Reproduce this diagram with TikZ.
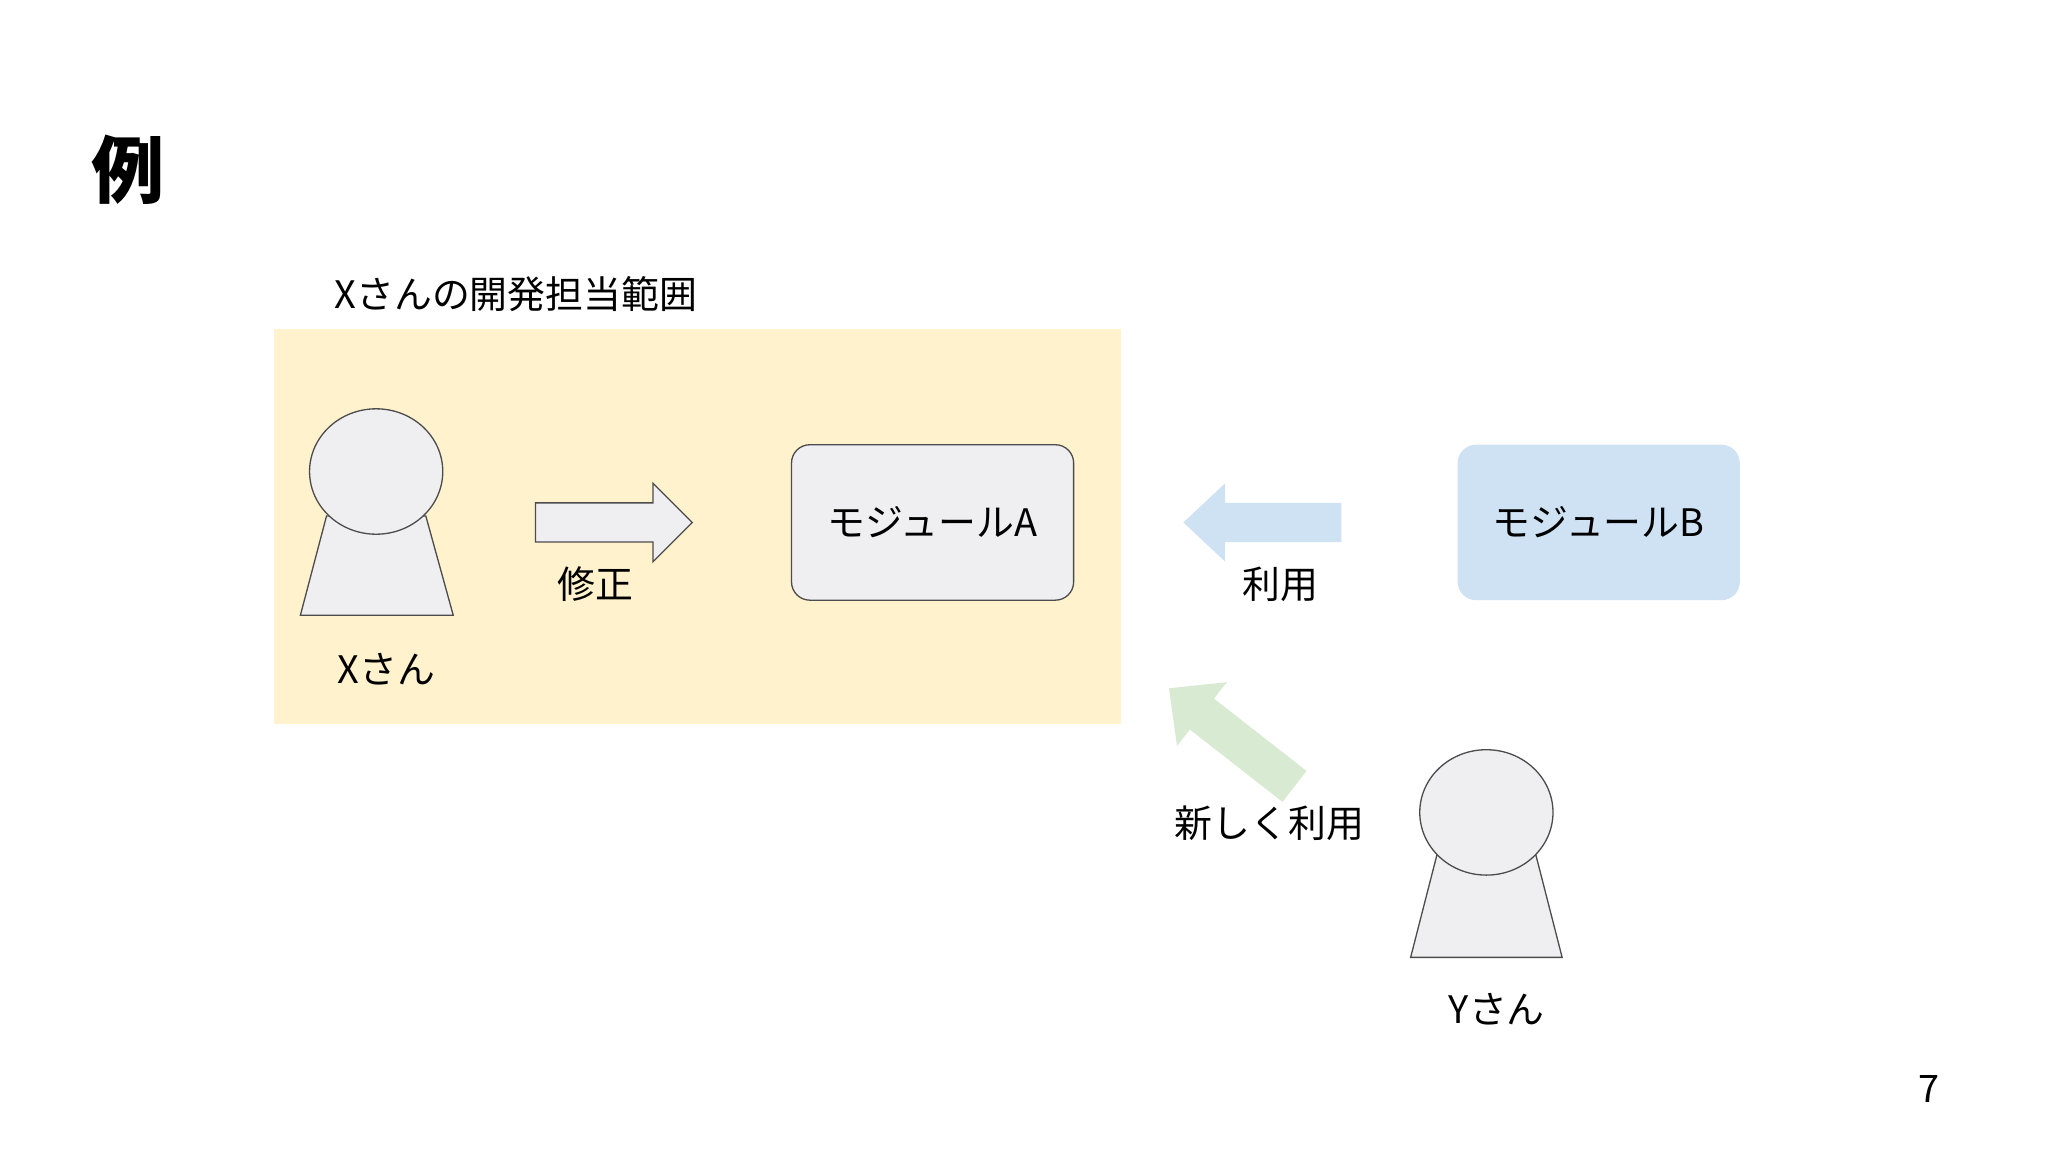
\documentclass[tikz,border=0pt]{standalone}
\usepackage{fontspec}
\setmainfont{Noto Sans CJK JP}
\definecolor{yel}{RGB}{255,242,204}
\definecolor{blu}{RGB}{207,226,243}
\definecolor{grn}{RGB}{217,234,211}
\definecolor{gry}{RGB}{239,239,242}
\begin{document}
\begin{tikzpicture}[x=1pt,y=-1pt,
  txt/.style={font=\fontsize{29}{31}\selectfont,inner sep=0pt},
  person/.style={fill=gry,draw=black!70,line width=1pt},
  modbox/.style={rounded corners=14pt,minimum width=216pt,minimum height=119pt,font=\fontsize{29}{31}\selectfont}]
\useasboundingbox (0,0) rectangle (1568,882);
\fill[white] (0,0) rectangle (1568,882);
\node[font=\fontsize{56}{60}\selectfont\bfseries,inner sep=0pt] (title) at (98,130) {例};
\fill[yel] (210,252) rectangle (858,554);
\node[txt,anchor=west] (scope) at (256,225) {Xさんの開発担当範囲};
% person X
\draw[person] (250,395) -- (326,395) -- (347,471) -- (230,471) -- cycle;
\draw[person] (288,361) ellipse [x radius=51,y radius=48];
\node[txt] (xname) at (296,512) {Xさん};
% gray arrow
\draw[fill=gry,draw=black!70,line width=1pt] (410,385) -- (500,385) -- (500,370) -- (530,400) -- (500,430) -- (500,415) -- (410,415) -- cycle;
\node[txt] (fix) at (456,447) {修正};
% modules
\node[modbox,draw=black!70,line width=1pt,fill=gry] (ma) at (714,400) {モジュールA};
\node[modbox,fill=blu] (mb) at (1224,400) {モジュールB};
% blue arrow
\fill[blu] (906,400) -- (938,370) -- (938,385) -- (1027,385) -- (1027,415) -- (938,415) -- (938,430) -- cycle;
\node[txt] (use) at (980,447) {利用};
% green arrow
\begin{scope}[shift={(895,527)},rotate=-38]
\fill[grn] (0,0) -- (32,-31) -- (32,-15) -- (122,-15) -- (122,15) -- (32,15) -- (32,31) -- cycle;
\end{scope}
\node[txt] (newuse) at (972,630) {新しく利用};
% person Y
\draw[person] (1100,655) -- (1176,655) -- (1196,733) -- (1080,733) -- cycle;
\draw[person] (1138,622) ellipse [x radius=51,y radius=48];
\node[txt] (yname) at (1146,773) {Yさん};
\node[txt] (page) at (1477,834) {7};
\end{tikzpicture}
\end{document}
